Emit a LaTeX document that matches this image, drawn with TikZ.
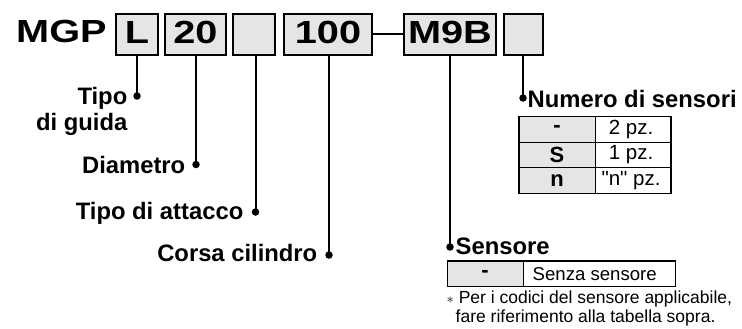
\documentclass[tikz,border=0pt]{standalone}
\usepackage{fontspec}
\setmainfont{Liberation Sans}
\usetikzlibrary{positioning}
\usepackage{xcolor}
\definecolor{boxgray}{gray}{0.9}

\newcommand{\codefont}{\fontsize{32}{34}\selectfont\bfseries}
\newcommand{\widetxt}[1]{\scalebox{1.24}[1]{#1}}

\tikzset{
  codebox/.style={draw, line width=1.8pt, fill=boxgray, inner sep=0pt, minimum height=41pt, text height=23pt, text depth=5pt, font=\codefont},
  lbl/.style={inner sep=0pt, font=\fontsize{23.8}{25.6}\selectfont\bfseries},
  pin/.style={circle, fill, inner sep=0pt, minimum size=7.5pt},
  wire/.style={line width=2pt},
  cell/.style={inner sep=0pt, font=\fontsize{20.5}{22}\selectfont},
  keycell/.style={inner sep=0pt, font=\fontsize{22}{24}\selectfont\bfseries}
}

\begin{document}
\begin{tikzpicture}[x=1pt, y=-1pt]
    \useasboundingbox (0,0) rectangle (742,329);

    % Code
    \node[anchor=base west, inner sep=0pt, font=\codefont] (mgp) at (16,43) {\widetxt{MGP}};
    \node[codebox, minimum width=42pt] (bGuida) at (137,34.5) {\widetxt{L}};
    \node[codebox, minimum width=61pt] (bDia) at (195.5,34.5) {\widetxt{20}};
    \node[codebox, minimum width=42pt] (bAtt) at (254,34.5) {};
    \node[codebox, minimum width=88pt] (bCorsa) at (328,34.5) {\widetxt{100}};
    \node[codebox, minimum width=92pt] (bSens) at (450,34.5) {\widetxt{M9B}};
    \node[codebox, minimum width=39pt] (bNum) at (523.5,34.5) {};
    \draw[wire] (bCorsa.east) -- (bSens.west);

    % Pins
    \node[pin] (pGuida) at (137,96) {};
    \node[pin] (pDia) at (196,164.5) {};
    \node[pin] (pAtt) at (255.5,212) {};
    \node[pin] (pCorsa) at (329,255) {};
    \node[pin] (pSens) at (450,247) {};
    \node[pin] (pNum) at (523,98) {};
    \foreach \p/\b in {pGuida/bGuida, pDia/bDia, pAtt/bAtt, pCorsa/bCorsa, pSens/bSens, pNum/bNum}
        \draw[wire] (\p |- \b.south) -- (\p.center);

    % Labels
    \node[lbl, anchor=north east, align=right] (tGuida) at (127.5,87.5) {Tipo\\di guida};
    \node[lbl, anchor=base east] (tDia) at (185.5,173.3) {Diametro};
    \node[lbl, anchor=base east] (tAtt) at (243.5,219) {Tipo di attacco};
    \node[lbl, anchor=base east] (tCorsa) at (317.5,261.7) {Corsa cilindro};
    \node[lbl, anchor=base west] (tNum) at (527.5,107.3) {Numero di sensori};
    \node[lbl, anchor=base west] (tSens) at (455.5,254) {Sensore};

    % Numero di sensori (table)
    \fill[boxgray] (519,116.5) rectangle (595,193.5);
    \draw[line width=0.9pt] (519,142) -- (671,142) (519,167.5) -- (671,167.5) (595,116.5) -- (595,193.5);
    \draw[line width=1.6pt] (519,116.5) rectangle (671,193.5);
    \foreach \k/\v [count=\r] in {{-}/{2 pz.}, {S}/{1 pz.}, {n}/{\textquotedbl n\textquotedbl{} pz.}} {
        \node[keycell] (k\r) at (557,{116.5+25.67*(\r-0.5)}) {\k};
        \node[cell] (v\r) at (631,{116.5+25.67*(\r-0.5)}) {\v};
    }

    % Sensore (table)
    \fill[boxgray] (447.5,261) rectangle (523,286.5);
    \draw[line width=0.9pt] (523,261) -- (523,286.5);
    \draw[line width=1.6pt] (447.5,261) rectangle (675.5,286.5);
    \node[keycell] (sk) at (485,273.75) {-};
    \node[cell, anchor=west, font=\fontsize{18.6}{20}\selectfont] (sv) at (532.5,273.75) {Senza sensore};

    \node[anchor=north west, inner sep=0pt, align=left, font=\fontsize{17.5}{18.3}\selectfont] (nota) at (446.5,291) {{\fontsize{14}{14}\selectfont$\ast$} Per i codici del sensore applicabile,\\\hspace*{9pt}fare riferimento alla tabella sopra.};
\end{tikzpicture}
\end{document}
